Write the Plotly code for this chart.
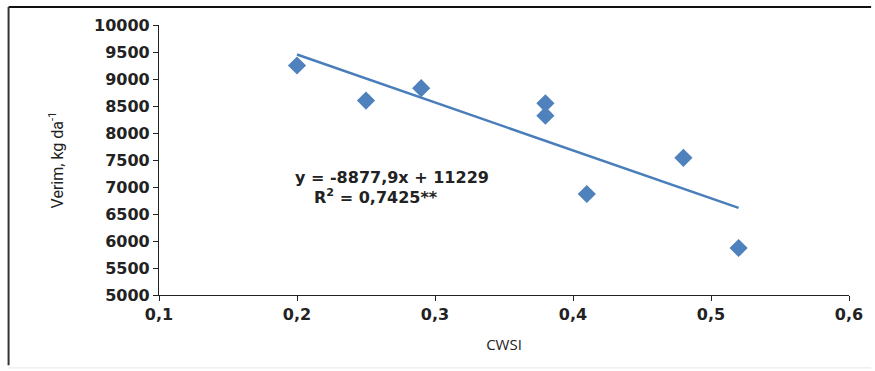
import plotly.graph_objects as go

cwsi = [0.20, 0.25, 0.29, 0.38, 0.38, 0.41, 0.48, 0.52]
verim = [9250, 8600, 8830, 8550, 8320, 6870, 7540, 5870]
slope = -8877.9
intercept = 11229
x_ticks = [0.1, 0.2, 0.3, 0.4, 0.5, 0.6]
y_ticks = [5000, 5500, 6000, 6500, 7000, 7500, 8000, 8500, 9000, 9500, 10000]

trend_x = [min(cwsi), max(cwsi)]
trend_y = [slope * v + intercept for v in trend_x]

fig = go.Figure()
fig.add_trace(go.Scatter(x=trend_x, y=trend_y, mode="lines",
                         line=dict(color="#4a7ebb", width=2.5), showlegend=False))
fig.add_trace(go.Scatter(x=cwsi, y=verim, mode="markers",
                         marker=dict(symbol="diamond", size=14, color="#4f81bd"),
                         showlegend=False))

tickfont = dict(family="DejaVu Sans", size=16, color="#222222", weight="bold")
annfont = dict(family="DejaVu Sans", size=16, color="#222222", weight="bold")
fig.update_layout(
    width=875, height=371,
    margin=dict(l=159, r=23, t=25, b=76),
    paper_bgcolor="white", plot_bgcolor="white",
    separators=", ",
    xaxis=dict(range=[0.1, 0.6], tickvals=x_ticks, tickformat=".1f",
               showgrid=False, zeroline=False, showline=True, linecolor="#222222",
               linewidth=1.2, ticks="outside", ticklen=5, tickcolor="#222222",
               tickfont=tickfont,
               title=dict(text="CWSI", font=dict(family="Open Sans", size=15, color="#222222"),
                          standoff=16)),
    yaxis=dict(range=[5000, 10000], tickvals=y_ticks, tickformat="d",
               showgrid=False, zeroline=False, showline=True, linecolor="#222222",
               linewidth=1.2, ticks="outside", ticklen=5, tickcolor="#222222",
               tickfont=tickfont,
               title=dict(text="Verim, kg da<sup>-1</sup>",
                          font=dict(family="Roboto", size=16, color="#222222"),
                          standoff=26)),
    annotations=[
        dict(x=0.269, y=7185, xref="x", yref="y", xanchor="center", yanchor="middle",
             text="y = -8877,9x + 11229", showarrow=False, font=annfont),
        dict(x=0.257, y=6815, xref="x", yref="y", xanchor="center", yanchor="middle",
             text="R<sup>2</sup> = 0,7425**", showarrow=False, font=annfont),
    ],
    shapes=[
        dict(type="line", xref="paper", yref="paper", x0=-0.218, x1=1.032, y0=1.0667, y1=1.0667,
             line=dict(color="#111111", width=2)),
        dict(type="line", xref="paper", yref="paper", x0=-0.218, x1=-0.218, y0=1.0667, y1=-0.26,
             line=dict(color="#333333", width=2)),
        dict(type="line", xref="paper", yref="paper", x0=-0.218, x1=1.032, y0=-0.27, y1=-0.27,
             line=dict(color="#e6e6e6", width=1)),
    ],
)
fig.write_html("out.html", config={"displayModeBar": False},
               post_script="document.body.style.margin='0';document.body.style.overflow='hidden';")
